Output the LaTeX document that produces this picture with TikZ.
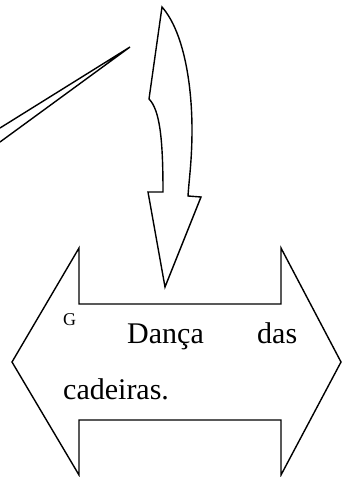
\documentclass[tikz,border=0pt]{standalone}
\usepackage{fontspec}
\setmainfont{Liberation Serif}
\begin{document}
\begin{tikzpicture}[x=1pt,y=-1pt,
  shape line/.style={draw=black,line width=1.4pt,line join=miter},
  txt/.style={inner sep=0pt,anchor=base west,font=\fontsize{30}{34}\selectfont},
  small/.style={inner sep=0pt,anchor=base west,font=\fontsize{18}{21}\selectfont}]
\useasboundingbox (0,0) rectangle (342,477);
% thin wedge line
\coordinate (wtip) at (130,47);
\coordinate (wa) at (0,128);
\coordinate (wb) at (0,142);
\draw[shape line] (wa) -- (wtip) -- (wb);
% curved down arrow
\draw[shape line] (162,7)
  .. controls (184,32) and (192,85) .. (192,130)
  .. controls (192,160) and (189,180) .. (188,196)
  -- (201,197) -- (165,287) -- (148,192) -- (163,192)
  .. controls (163,140) and (160,110) .. (149,99)
  -- cycle;
% left-right arrow
\draw[shape line] (12,362) -- (79,248) -- (79,304) -- (281,304) -- (281,248)
  -- (341,362) -- (281,475) -- (281,420) -- (79,420) -- (79,475) -- cycle;
\node[small] (g) at (63,325) {G};
\node[txt] (danca) at (127,343) {Dança};
\node[txt] (das) at (257,343) {das};
\node[txt] (cad) at (63,399) {cadeiras.};
\end{tikzpicture}
\end{document}
